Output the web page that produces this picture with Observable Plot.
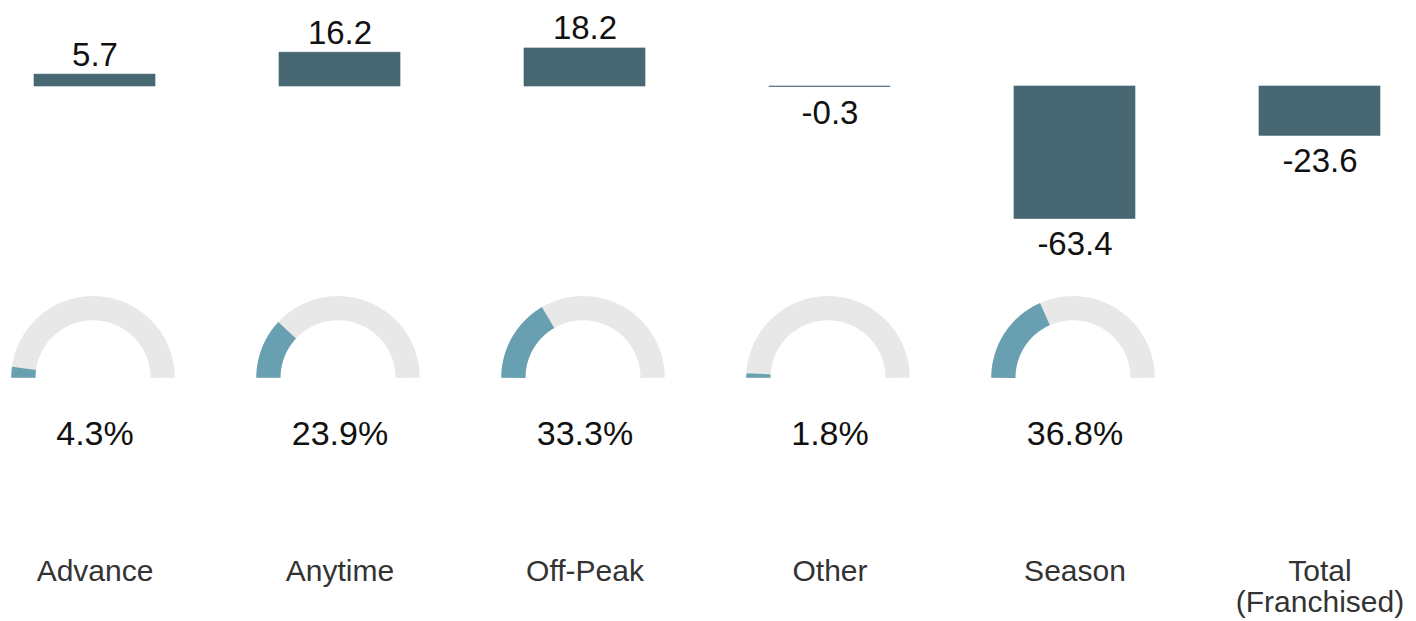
<!DOCTYPE html>
<html>
<head>
<meta charset="utf-8">
<script src="https://cdn.jsdelivr.net/npm/d3@7"></script>
<script src="https://cdn.jsdelivr.net/npm/@observablehq/plot@0.6"></script>
<style>
  html, body { margin: 0; padding: 0; background: #fff; overflow: hidden; }
  #chart svg { display: block; }
</style>
</head>
<body>
<div id="chart"></div>
<script>
// ---- data ----
const categories = ["Advance", "Anytime", "Off-Peak", "Other", "Season", "Total (Franchised)"];
const tickLabels = ["Advance", "Anytime", "Off-Peak", "Other", "Season", "Total\n(Franchised)"];
const changes = [5.7, 16.2, 18.2, -0.3, -63.4, -23.6];
const shares = [4.3, 23.9, 33.3, 1.8, 36.8, null];

// ---- layout ----
const W = 1416, H1 = 260, H2 = 361;
const mL = 34, mR = 36;
const pxPerUnit = 2.09;       // bar scale
const zeroY = 86;             // baseline position in the bar panel
const font = "'Liberation Sans', Arial, sans-serif";
const barColor = "#476873";
const gaugeColor = "#68a0b2";
const trackColor = "#e8e8e8";

const bars = categories.map((c, i) => ({cat: c, value: changes[i], label: changes[i].toFixed(1)}));

const barPlot = Plot.plot({
  width: W, height: H1,
  marginLeft: mL, marginRight: mR, marginTop: 0, marginBottom: 0,
  style: {fontFamily: font, background: "transparent", overflow: "visible"},
  x: {domain: categories, paddingInner: 0.506, paddingOuter: 0, round: false, axis: null},
  y: {domain: [-(H1 - zeroY) / pxPerUnit, zeroY / pxPerUnit], axis: null},
  marks: [
    Plot.barY(bars, {x: "cat", y: "value", fill: barColor, stroke: barColor, strokeWidth: 0.6, inset: 0}),
    Plot.text(bars.filter(d => d.value >= 0), {x: "cat", y: "value", text: "label", lineAnchor: "bottom", dy: -9, fontSize: 33, fill: "#111"}),
    Plot.text(bars.filter(d => d.value < 0), {x: "cat", y: "value", text: "label", lineAnchor: "top", dy: 13, fontSize: 33, fill: "#111"})
  ]
});

// ---- gauges (pixel-like units inside each facet) ----
const R = 69.6, thick = 24.2, top2 = 117.3;
const track = [], fill = [];
categories.forEach((c, i) => {
  if (shares[i] == null) return;
  for (let a = 180; a >= 0; a -= 1) {
    const t = a * Math.PI / 180;
    track.push({cat: c, x: R * Math.cos(t), y: R * Math.sin(t)});
  }
  const end = 180 - shares[i] * 1.8;
  const n = 60;
  for (let k = 0; k <= n; k++) {
    const a = 180 + (end - 180) * k / n;
    const t = a * Math.PI / 180;
    fill.push({cat: c, x: R * Math.cos(t), y: R * Math.sin(t)});
  }
});
const pcts = categories.map((c, i) => ({cat: c, share: shares[i]})).filter(d => d.share != null)
  .map(d => ({...d, label: d.share.toFixed(1) + "%"}));
const labels = categories.map((c, i) => ({cat: c, label: tickLabels[i]}));

const gaugePlot = Plot.plot({
  width: W, height: H2,
  marginLeft: mL, marginRight: mR, marginTop: 0, marginBottom: 0,
  style: {fontFamily: font, background: "transparent", overflow: "visible"},
  fx: {domain: categories, paddingInner: 0.506, paddingOuter: 0, round: false, axis: null, label: null},
  x: {domain: [-60.5, 60.5], axis: null},
  y: {domain: [-(H2 - top2), top2], axis: null},
  marks: [
    Plot.line(track, {fx: "cat", x: "x", y: "y", z: "cat", stroke: trackColor, strokeWidth: thick, strokeLinecap: "butt", strokeLinejoin: "round", dx: -2}),
    Plot.line(fill, {fx: "cat", x: "x", y: "y", z: "cat", stroke: gaugeColor, strokeWidth: thick, strokeLinecap: "butt", strokeLinejoin: "round", dx: -2}),
    Plot.text(pcts, {fx: "cat", x: () => 0, y: () => -66.7, text: "label", lineAnchor: "bottom", fontSize: 34, fill: "#111"}),
    Plot.text(labels, {fx: "cat", x: () => 0, y: () => -181.4, text: "label", lineAnchor: "top", lineHeight: 1.03, fontSize: 30, fill: "#333"})
  ]
});

const chart = document.getElementById("chart");
chart.appendChild(barPlot);
chart.appendChild(gaugePlot);
</script>
</body>
</html>
